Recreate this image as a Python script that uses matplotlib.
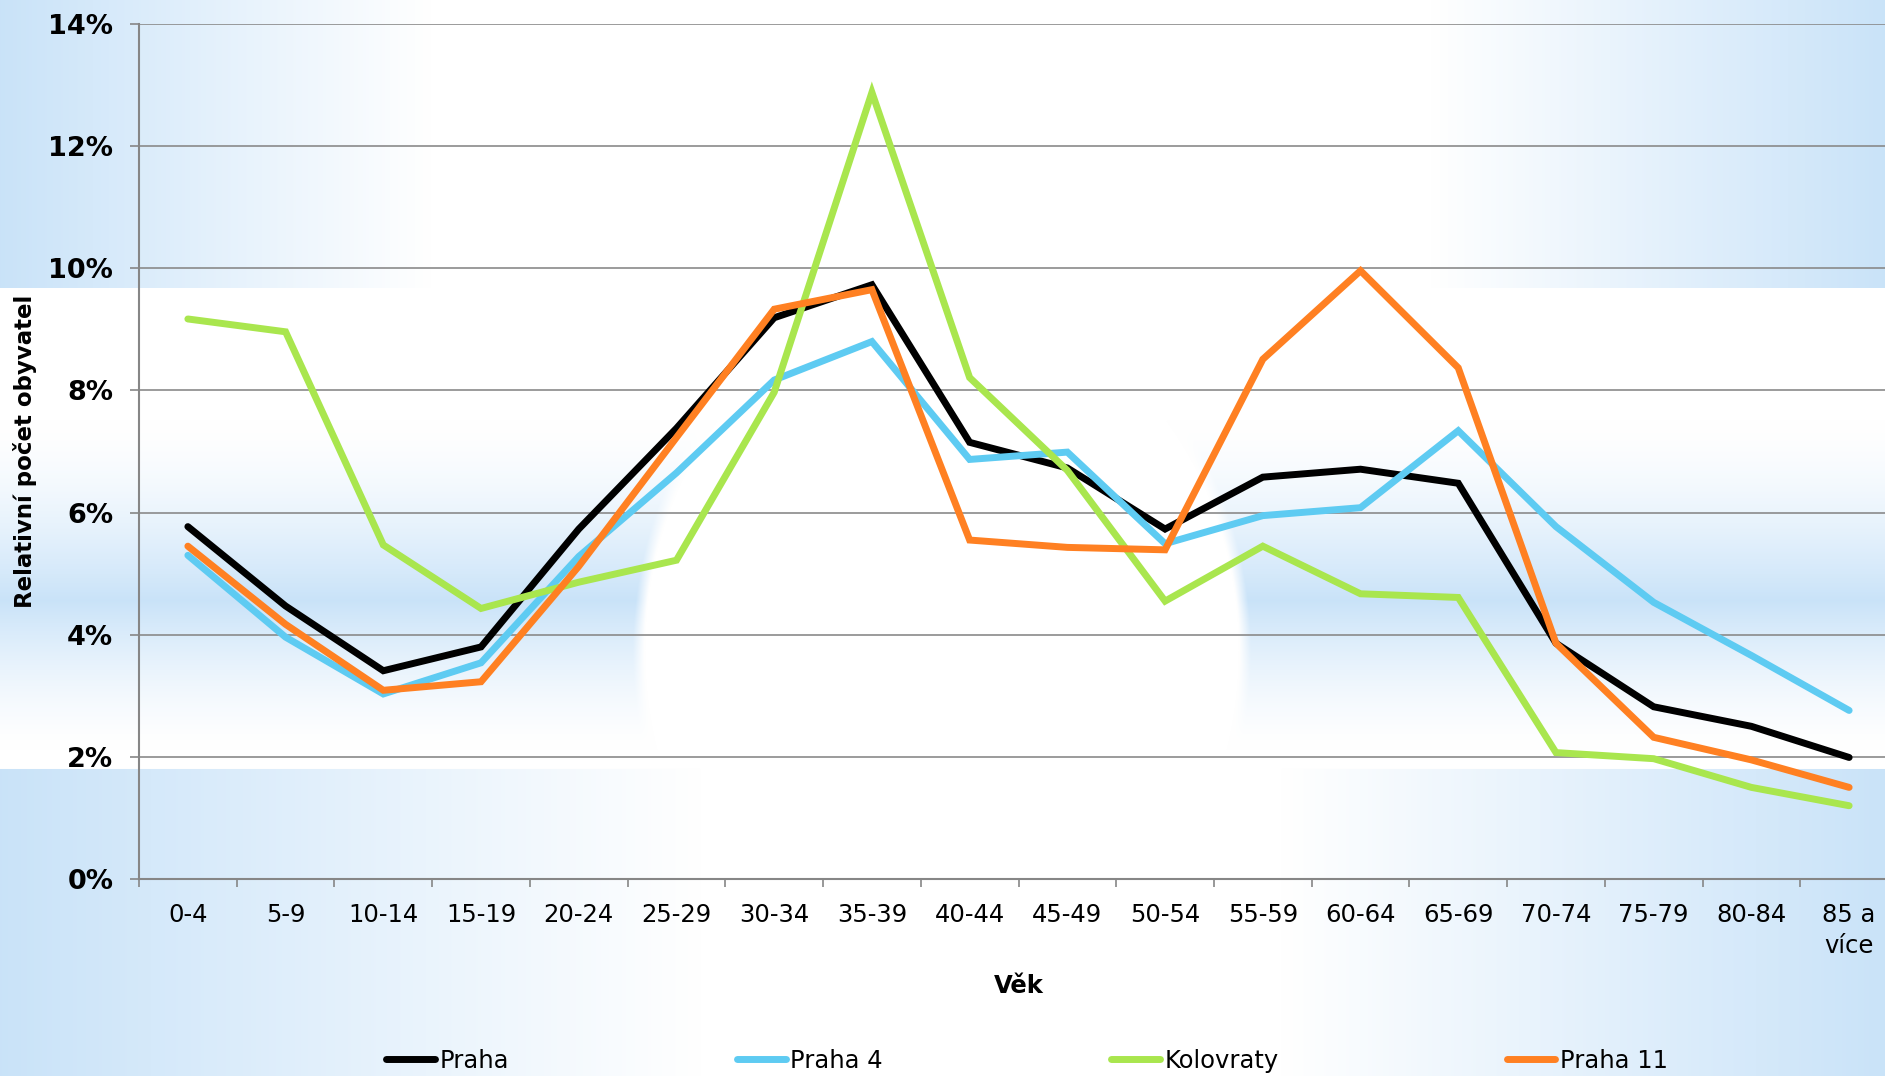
import numpy as np
import matplotlib.pyplot as plt
from matplotlib.ticker import FixedLocator

plt.rcParams['font.family'] = ['DejaVu Sans']

# age groups and shares (%)
vek = ['0-4', '5-9', '10-14', '15-19', '20-24', '25-29', '30-34', '35-39', '40-44',
       '45-49', '50-54', '55-59', '60-64', '65-69', '70-74', '75-79', '80-84', '85 a\nvíce']
praha = [5.77, 4.47, 3.41, 3.80, 5.73, 7.38, 9.19, 9.73, 7.15,
         6.73, 5.73, 6.58, 6.71, 6.48, 3.86, 2.82, 2.50, 1.99]
praha4 = [5.30, 3.96, 3.03, 3.54, 5.28, 6.65, 8.17, 8.80, 6.87,
          6.99, 5.49, 5.95, 6.08, 7.34, 5.77, 4.53, 3.66, 2.76]
kolovraty = [9.17, 8.96, 5.47, 4.43, 4.86, 5.22, 7.97, 12.88, 8.21,
             6.69, 4.55, 5.45, 4.67, 4.61, 2.07, 1.97, 1.50, 1.20]
praha11 = [5.45, 4.17, 3.09, 3.23, 5.12, 7.23, 9.33, 9.65, 5.55,
           5.43, 5.39, 8.51, 9.96, 8.37, 3.86, 2.32, 1.95, 1.50]

W, H = 1885, 1076
fig = plt.figure(figsize=(W / 100, H / 100), dpi=100)

# slide-like background: blue side gradients, a blue band and a white oval
yy, xx = np.mgrid[0:H, 0:W].astype(float)
w = np.zeros((H, W))
top = yy < 288
bot = yy >= 769
mid = ~top & ~bot
wa = np.maximum(np.clip(1 - xx / 430, 0, 1), np.clip((xx - 1430) / 455, 0, 1))
wc = np.maximum(np.clip(1 - xx / 700, 0, 1), np.clip((xx - 1280) / 605, 0, 1))
band = np.where(yy < 600, np.clip((yy - 420) / 180, 0, 1), np.clip(1 - (yy - 600) / 150, 0, 1)) ** 1.5
ell = ((xx - 941) / 297) ** 2 + ((yy - 650) / 350) ** 2
emask = np.clip((ell - 1) / 0.08, 0, 1)
w[top] = wa[top]
w[bot] = wc[bot]
w[mid] = (band * emask)[mid]
blue = np.array([0.79, 0.89, 0.975])
img = 1 - w[..., None] * (1 - blue)
bg = fig.add_axes([0, 0, 1, 1], zorder=-1)
bg.imshow(img, aspect='auto', extent=(0, 1, 0, 1))
bg.axis('off')

ax = fig.add_axes([139 / W, 1 - 879 / H, 1759 / W, 855 / H])
ax.set_facecolor('none')
x = np.arange(len(vek))
series = [('Praha', praha, '#000000'), ('Praha 4', praha4, '#5ecbf2'),
          ('Kolovraty', kolovraty, '#a9e64e'), ('Praha 11', praha11, '#ff8022')]
for name, vals, col in series:
    ax.plot(x, vals, color=col, lw=5, label=name, solid_capstyle='round',
            solid_joinstyle='miter', zorder=3)

ax.set_xlim(-0.5, len(vek) - 0.5)
ax.set_ylim(0, 14)
ax.set_yticks(np.arange(0, 15, 2))
ax.set_yticklabels([f'{v}%' for v in range(0, 15, 2)], fontsize=19.5, fontweight='bold')
ax.set_xticks(x)
ax.set_xticklabels(vek, fontsize=17.5, linespacing=1.4)
ax.xaxis.set_minor_locator(FixedLocator(np.arange(-0.5, len(vek), 1)))
ax.tick_params(axis='x', which='major', length=0, pad=17)
ax.tick_params(axis='x', which='minor', length=6, width=1.2, color='#868686', direction='out')
ax.tick_params(axis='y', length=6.5, width=1.2, color='#868686', pad=12)
ax.grid(axis='y', color='#8a8a8a', lw=1.2, zorder=1)
for s in ['top', 'right']:
    ax.spines[s].set_visible(False)
for s in ['left', 'bottom']:
    ax.spines[s].set_color('#868686')
    ax.spines[s].set_linewidth(1.5)

ax.set_ylabel('Relativní počet obyvatel', fontsize=16.5, fontweight='bold')
ax.yaxis.set_label_coords((37 - 139) / 1759, (879 - 451) / 855)
ax.set_xlabel('Věk', fontsize=17.5, fontweight='bold')
ax.xaxis.set_label_coords(0.5, (879 - 986) / 855)
ax.xaxis.label.set_va('center')

fig.legend(loc='center left', bbox_to_anchor=(386 / W, 1 - 1061 / H), ncol=4,
           frameon=False, fontsize=17.5, handlelength=2.0, handletextpad=0.2,
           columnspacing=9.38, borderpad=0, borderaxespad=0)

fig.savefig('out.png', dpi=100)
